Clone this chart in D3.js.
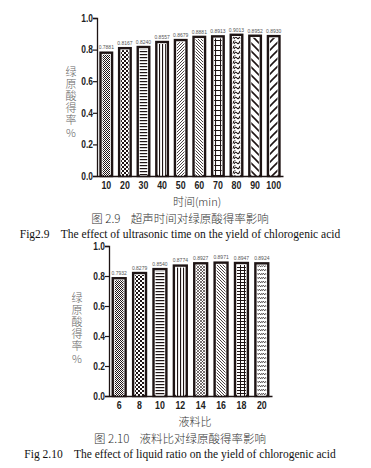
<!DOCTYPE html>
<html>
<head>
<meta charset="utf-8">
<script src="https://cdn.jsdelivr.net/npm/d3@7"></script>
<style>
  body { margin: 0; background: #fff; }
  .tick text { font-family: "Liberation Sans", Arial, sans-serif; font-weight: bold; }
</style>
</head>
<body>
<div id="chart"></div>
<script>
// chart 1 : ultrasonic time
var timeCats = ["10", "20", "30", "40", "50", "60", "70", "80", "90", "100"];
var timeVals = [0.7881, 0.8167, 0.8240, 0.8557, 0.8679, 0.8881, 0.8913, 0.9013, 0.8952, 0.8930];
var timePats = ["chkS", "chkL", "hLine", "vLine", "diagF", "bdiagF", "grid", "wave", "bdiagW", "diagW"];

// chart 2 : liquid ratio
var ratioCats = ["6", "8", "10", "12", "14", "16", "18", "20"];
var ratioVals = [0.7932, 0.8279, 0.8540, 0.8774, 0.8927, 0.8971, 0.8947, 0.8924];
var ratioPats = ["chkS", "chkL", "hLine", "vLine", "cross", "bdiagF", "grid2", "wave2"];

var yTicks = [0, 0.2, 0.4, 0.6, 0.8, 1.0];
var yLabel = "绿原酸得率%";

var svg = d3.select("#chart").append("svg")
  .attr("width", 371).attr("height", 468);

var defs = svg.append("defs");
var ink = "#1e1414";

function pat(id, w, h, draw) {
  var p = defs.append("pattern").attr("id", id)
    .attr("patternUnits", "userSpaceOnUse").attr("width", w).attr("height", h);
  p.append("rect").attr("width", w).attr("height", h).attr("fill", "#fff");
  draw(p);
}
pat("chkS", 2, 2, function(p) {
  p.append("rect").attr("width", 1).attr("height", 1).attr("fill", ink);
  p.append("rect").attr("x", 1).attr("y", 1).attr("width", 1).attr("height", 1).attr("fill", ink);
});
pat("chkL", 4, 4, function(p) {
  p.append("rect").attr("width", 2).attr("height", 2).attr("fill", ink);
  p.append("rect").attr("x", 2).attr("y", 2).attr("width", 2).attr("height", 2).attr("fill", ink);
});
pat("hLine", 4, 3, function(p) {
  p.append("rect").attr("width", 4).attr("height", 1.2).attr("fill", ink);
});
pat("vLine", 3, 4, function(p) {
  p.append("rect").attr("width", 1.1).attr("height", 4).attr("fill", ink);
});
pat("diagF", 3, 3, function(p) {
  p.append("path").attr("d", "M-1,1 L1,-1 M0,3 L3,0 M2,4 L4,2").attr("stroke", ink).attr("stroke-width", 0.8);
});
pat("bdiagF", 3, 3, function(p) {
  p.append("path").attr("d", "M-1,2 L1,4 M0,0 L3,3 M2,-1 L4,1").attr("stroke", ink).attr("stroke-width", 0.8);
});
pat("grid", 5, 5, function(p) {
  p.append("path").attr("d", "M0,0.5 H5 M0.5,0 V5").attr("stroke", ink).attr("stroke-width", 1.1);
});
pat("grid2", 4, 3, function(p) {
  p.append("path").attr("d", "M0,0.5 H4 M0.5,0 V3").attr("stroke", ink).attr("stroke-width", 1);
});
pat("wave", 6, 5, function(p) {
  p.append("path").attr("d", "M0,4 Q1.5,1 3,3 T6,1").attr("fill", "none").attr("stroke", ink).attr("stroke-width", 1.1);
  p.append("path").attr("d", "M0,1.5 Q1,0 1.5,0").attr("fill", "none").attr("stroke", ink).attr("stroke-width", 1);
});
pat("wave2", 4, 4, function(p) {
  p.append("path").attr("d", "M0,3 Q1,1 2,2 T4,1").attr("fill", "none").attr("stroke", ink).attr("stroke-width", 0.8);
});
pat("cross", 3, 3, function(p) {
  p.append("path").attr("d", "M0,0 L3,3 M0,3 L3,0").attr("stroke", ink).attr("stroke-width", 0.6);
});
pat("bdiagW", 8, 8, function(p) {
  p.append("path").attr("d", "M-2,6 L2,10 M0,0 L8,8 M6,-2 L10,2").attr("stroke", ink).attr("stroke-width", 1.6);
});
pat("diagW", 8, 8, function(p) {
  p.append("path").attr("d", "M-2,2 L2,-2 M0,8 L8,0 M6,10 L10,6").attr("stroke", ink).attr("stroke-width", 1.6);
});

function drawChart(cfg) {
  var x = d3.scaleBand().domain(cfg.cats).range([cfg.x0, cfg.x1])
    .paddingInner(0.25).paddingOuter(0.125);
  var y = d3.scaleLinear().domain([0, 1]).range([cfg.y0, cfg.y1]);
  var g = svg.append("g");

  // bars
  var bars = g.selectAll("g.bar").data(cfg.vals).enter().append("g").attr("class", "bar");
  bars.append("rect")
    .attr("x", function(d, i) { return x(cfg.cats[i]) + 1.2; })
    .attr("y", function(d) { return y(d) + 1.2; })
    .attr("width", x.bandwidth() - 2.4)
    .attr("height", function(d) { return y(0) - y(d) - 1.2; })
    .attr("fill", "#fff").attr("stroke", ink).attr("stroke-width", 2.4);
  bars.append("rect")
    .attr("x", function(d, i) { return x(cfg.cats[i]) + 3.2; })
    .attr("y", function(d) { return y(d) + 3.2; })
    .attr("width", x.bandwidth() - 6.4)
    .attr("height", function(d) { return y(0) - y(d) - 3.2; })
    .attr("fill", function(d, i) { return "url(#" + cfg.pats[i] + ")"; });
  bars.append("text")
    .attr("x", function(d, i) { return x(cfg.cats[i]) + x.bandwidth() / 2; })
    .attr("y", function(d) { return y(d) - 2; })
    .attr("text-anchor", "middle")
    .style("font-family", "'Liberation Sans', sans-serif")
    .style("font-size", "5px").attr("fill", "#555")
    .text(function(d) { return d.toFixed(4); });

  // axes
  var ya = g.append("g").attr("transform", "translate(" + cfg.x0 + ",0)")
    .call(d3.axisLeft(y).tickValues(yTicks).tickFormat(d3.format(".1f")).tickSize(4).tickPadding(1));
  ya.selectAll("text").style("font-size", "10.5px").attr("fill", "#222")
    .attr("transform", "scale(0.8,1)");
  ya.select(".domain").attr("stroke", ink).attr("stroke-width", 1.3);
  ya.selectAll(".tick line").attr("stroke", ink).attr("stroke-width", 1.2);

  var xa = g.append("g").attr("transform", "translate(0," + cfg.y0 + ")")
    .call(d3.axisBottom(x).tickSize(0).tickPadding(cfg.xpad));
  xa.selectAll("text").style("font-size", "11px").attr("fill", "#222")
    .attr("transform", "scale(0.8,1)");
  xa.select(".domain").attr("stroke", ink).attr("stroke-width", 1.3);

  // y title, written top to bottom
  g.append("text")
    .attr("x", cfg.ylx).attr("y", cfg.yly)
    .style("writing-mode", "vertical-rl")
    .style("text-orientation", "upright")
    .style("letter-spacing", "1.2px")
    .style("font-family", "'Noto Sans CJK SC', sans-serif")
    .style("font-size", "11px")
    .style("font-weight", 300).attr("fill", "#666")
    .text(yLabel);

  g.append("text").attr("x", cfg.xtx).attr("y", cfg.xty).attr("text-anchor", "middle")
    .style("font-family", "'Noto Sans CJK SC', 'Liberation Serif', serif")
    .style("font-size", "11px").style("font-weight", 300).attr("fill", "#333")
    .text(cfg.xTitle);

  g.append("text").attr("x", cfg.capX).attr("y", cfg.capY).attr("text-anchor", "middle")
    .style("font-family", "'Noto Sans CJK SC', serif")
    .style("font-size", "11.5px").style("font-weight", 300).attr("fill", "#333")
    .attr("xml:space", "preserve")
    .text(cfg.capZh);

  g.append("text").attr("x", cfg.capX).attr("y", cfg.capY + 15).attr("text-anchor", "middle")
    .style("font-family", "'Liberation Serif', serif")
    .style("font-size", "11.5px").attr("fill", "#111")
    .attr("xml:space", "preserve")
    .text(cfg.capEn);
}

drawChart({
  cats: timeCats, vals: timeVals, pats: timePats,
  x0: 97, x1: 283, y0: 176, y1: 18, xpad: 5,
  ylx: 71, yly: 66,
  xTitle: "时间(min)", xtx: 197, xty: 206,
  capX: 180, capY: 223,
  capZh: "图 2.9    超声时间对绿原酸得率影响",
  capEn: "Fig2.9    The effect of ultrasonic time on the yield of chlorogenic acid"
});

drawChart({
  cats: ratioCats, vals: ratioVals, pats: ratioPats,
  x0: 109, x1: 272, y0: 396, y1: 246, xpad: 5,
  ylx: 77, yly: 292,
  xTitle: "液料比", xtx: 195, xty: 426,
  capX: 180, capY: 443,
  capZh: "图 2.10    液料比对绿原酸得率影响",
  capEn: "Fig 2.10    The effect of liquid ratio on the yield of chlorogenic acid"
});
</script>
</body>
</html>
